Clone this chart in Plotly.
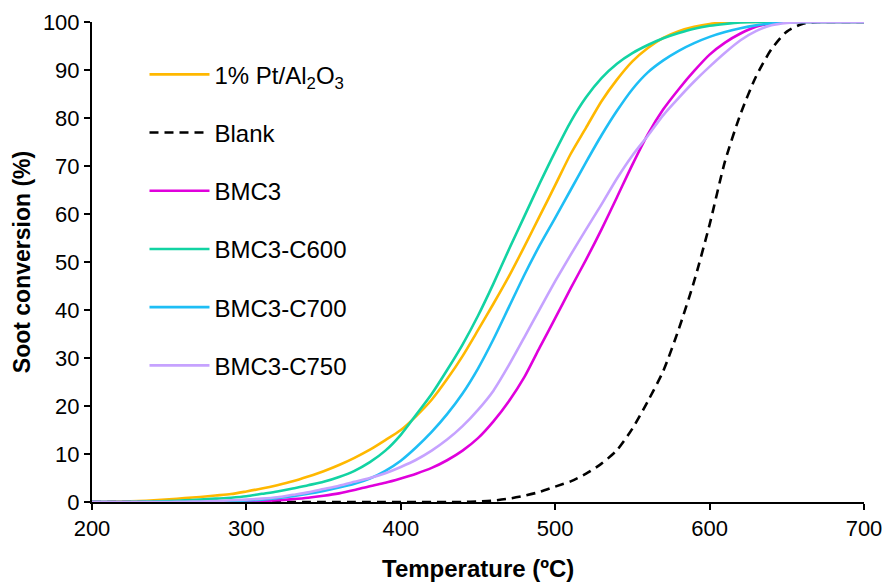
import plotly.graph_objects as go

temperature = list(range(200, 710, 10))

pt_al2o3 = [0, 0.05, 0.1, 0.2, 0.35, 0.55, 0.8, 1.05, 1.35, 1.65,
            2.2, 2.8, 3.5, 4.3, 5.3, 6.4, 7.7, 9.2, 10.9, 12.9,
            15.0, 17.9, 21.3, 25.6, 30.4, 35.8, 41.3, 47.0, 53.2, 59.6,
            66.0, 72.5, 78.0, 83.5, 88.0, 91.8, 94.6, 96.7, 98.1, 99.0,
            99.6, 99.9, 100, 100, 100, 100, 100, 100, 100, 100, 100]

blank = [0, 0, 0, 0, 0, 0, 0, 0, 0, 0,
         0, 0, 0, 0, 0, 0, 0, 0, 0, 0,
         0, 0, 0, 0, 0, 0.1, 0.3, 0.7, 1.3, 2.1,
         3.2, 4.3, 5.9, 8.0, 10.8, 15.3, 21.0, 27.3, 36.0, 46.0,
         57.8, 71.0, 80.8, 88.6, 94.3, 98.0, 99.6, 100, 100, 100, 100]

bmc3 = [0, 0, 0, 0, 0, 0, 0, 0, 0, 0,
        0.1, 0.2, 0.35, 0.6, 0.9, 1.3, 1.8, 2.5, 3.3, 4.0,
        4.9, 5.9, 7.1, 8.7, 10.7, 13.3, 16.8, 21.0, 26.0, 32.2,
        38.3, 44.5, 50.5, 56.8, 63.5, 70.3, 76.6, 81.8, 86.0, 89.8,
        93.2, 95.7, 97.6, 99.0, 99.7, 100, 100, 100, 100, 100, 100]

bmc3_c600 = [0, 0, 0, 0.05, 0.1, 0.2, 0.35, 0.5, 0.7, 0.9,
             1.2, 1.7, 2.2, 2.8, 3.5, 4.2, 5.2, 6.5, 8.3, 10.7,
             14.0, 18.2, 22.5, 27.5, 32.8, 38.8, 45.5, 52.6, 59.5, 66.4,
             73.0, 79.2, 84.3, 88.3, 91.3, 93.5, 95.2, 96.6, 97.7, 98.6,
             99.2, 99.6, 99.9, 100, 100, 100, 100, 100, 100, 100, 100]

bmc3_c700 = [0, 0, 0, 0, 0, 0, 0, 0, 0.05, 0.15,
             0.3, 0.5, 0.8, 1.2, 1.7, 2.3, 3.0, 3.8, 4.9, 6.5,
             8.6, 11.4, 14.6, 18.3, 22.6, 27.8, 33.9, 40.6, 47.3, 53.5,
             59.2, 65.0, 70.8, 76.4, 81.5, 86.0, 89.5, 92.0, 94.0, 95.6,
             96.9, 97.9, 98.7, 99.3, 99.7, 100, 100, 100, 100, 100, 100]

bmc3_c750 = [0, 0, 0, 0, 0, 0, 0.05, 0.1, 0.2, 0.35,
             0.5, 0.7, 1.0, 1.5, 2.0, 2.7, 3.4, 4.2, 5.0, 6.0,
             7.3, 8.8, 10.7, 13.0, 15.8, 19.2, 23.2, 28.5, 34.3, 40.2,
             46.0, 51.5, 56.8, 62.0, 67.4, 72.2, 76.3, 80.6, 84.2, 87.6,
             90.7, 93.6, 96.2, 98.1, 99.3, 99.8, 100, 100, 100, 100, 100]

series = [
    ("1% Pt/Al<sub>2</sub>O<sub>3</sub>", pt_al2o3, "#FFB800", "solid"),
    ("Blank", blank, "#000000", "9px,6px"),
    ("BMC3", bmc3, "#E000DC", "solid"),
    ("BMC3-C600", bmc3_c600, "#12D3A3", "solid"),
    ("BMC3-C700", bmc3_c700, "#1EBEF5", "solid"),
    ("BMC3-C750", bmc3_c750, "#C6A2FF", "solid"),
]

fig = go.Figure()
for i, (name, vals, color, dash) in enumerate(series):
    fig.add_trace(go.Scatter(
        x=temperature, y=vals, name=name, mode="lines",
        legendgroup=f"g{i}",
        line=dict(color=color, width=2.6, dash=dash, shape="spline", smoothing=0.7),
    ))

font_family = "Liberation Sans, Arial, sans-serif"
fig.update_layout(
    width=888, height=584,
    margin=dict(l=92, r=24, t=22, b=82, autoexpand=False),
    paper_bgcolor="white", plot_bgcolor="white",
    font=dict(family=font_family, color="#000000", size=22),
    showlegend=True,
    legend=dict(
        x=0.068, y=0.937, xanchor="left", yanchor="top",
        bgcolor="rgba(0,0,0,0)", font=dict(size=24, family=font_family),
        tracegroupgap=24, itemwidth=60,
    ),
    xaxis=dict(
        range=[200, 700], tickvals=[200, 300, 400, 500, 600, 700],
        showline=True, linecolor="black", linewidth=2,
        ticks="outside", ticklen=6, tickwidth=2, tickcolor="black",
        showgrid=False, zeroline=False, automargin=False,
        tickfont=dict(size=22),
    ),
    yaxis=dict(
        range=[0, 100], tickvals=list(range(0, 101, 10)),
        showline=True, linecolor="black", linewidth=2,
        ticks="outside", ticklen=6, tickwidth=2, tickcolor="black",
        showgrid=False, zeroline=False,
        title=dict(text="<b>Soot conversion (%)</b>", font=dict(size=23), standoff=6),
        tickfont=dict(size=22),
    ),
    annotations=[dict(
        text="<b>Temperature (ºC)</b>", xref="paper", yref="paper",
        x=0.5, y=-0.1375, xanchor="center", yanchor="middle",
        showarrow=False, font=dict(size=24, family=font_family, color="#000000"),
    )],
)

fig.write_html("out.html")
